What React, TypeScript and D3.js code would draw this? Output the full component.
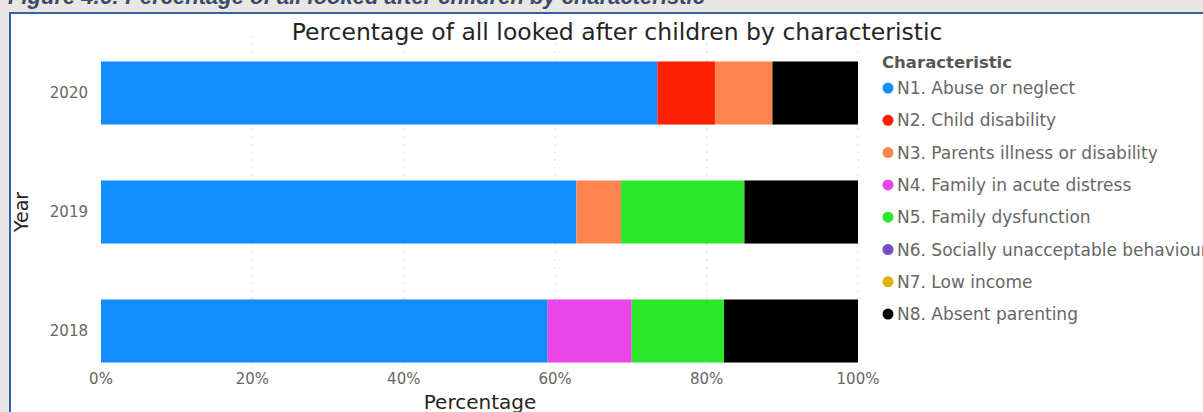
import React from "react";
import * as d3 from "d3";

const years = ["2020", "2019", "2018"];

const categories = [
  "N1. Abuse or neglect",
  "N2. Child disability",
  "N3. Parents illness or disability",
  "N4. Family in acute distress",
  "N5. Family dysfunction",
  "N6. Socially unacceptable behaviour",
  "N7. Low income",
  "N8. Absent parenting",
];

const colors = [
  "#118DFF",
  "#FA2000",
  "#FF8550",
  "#EB44EB",
  "#2BE62B",
  "#744EC2",
  "#D9B300",
  "#000000",
];

// Percentage share of each characteristic, one array per year (order follows categories)
const values2020 = [73.5, 7.6, 7.6, 0, 0, 0, 0, 11.3];
const values2019 = [62.8, 0, 5.9, 0, 16.3, 0, 0, 15.0];
const values2018 = [59.0, 0, 0, 11.1, 12.2, 0, 0, 17.7];

const xTicks = [0, 20, 40, 60, 80, 100];

const W = 1203;
const H = 412;

export default function App() {
  const valuesByYear: Record<string, number[]> = {
    "2020": values2020,
    "2019": values2019,
    "2018": values2018,
  };

  const x = d3.scaleLinear().domain([0, 100]).range([101, 858]);
  const y = d3.scalePoint<string>().domain(years).range([33.5, 390.5]).padding(0.5);
  const step = y.step();
  const barH = step * 0.53;

  const stackData = years.map((yr) => {
    const row: Record<string, number | string> = { year: yr };
    categories.forEach((c, i) => (row[c] = valuesByYear[yr][i]));
    return row;
  });
  const stack = d3.stack<Record<string, number | string>>().keys(categories)(stackData as any);

  const font = "'DejaVu Sans', Verdana, sans-serif";

  return (
    <>
      <style>{`body{margin:0;}`}</style>
      <svg width={W} height={H} style={{ display: "block" }}>
        <rect x={0} y={0} width={W} height={H} fill="#e9e7e4" />
        <text
          x={8}
          y={4}
          fontFamily="'Liberation Sans', Arial, sans-serif"
          fontWeight="bold"
          fontStyle="italic"
          fontSize={22}
          fill="#3b4a6a"
        >
          Figure 4.6: Percentage of all looked after children by characteristic
        </text>
        <rect x={10} y={13} width={W + 20} height={H + 20} fill="#ffffff" stroke="#3560a8" strokeWidth={2} />

        <text x={617} y={40} textAnchor="middle" fontFamily={font} fontSize={23.5} fill="#252423">
          Percentage of all looked after children by characteristic
        </text>

        {/* vertical dotted gridlines */}
        {xTicks
          .filter((t) => t > 0)
          .map((t) => (
            <line
              key={t}
              x1={x(t)}
              x2={x(t)}
              y1={36}
              y2={368}
              stroke="#cfcfcf"
              strokeWidth={1}
              strokeDasharray="1.5 6.2"
            />
          ))}

        {/* stacked bars */}
        {stack.map((layer, li) => (
          <g key={categories[li]} fill={colors[li]}>
            {layer.map((d, di) => {
              const w = x(d[1]) - x(d[0]);
              if (w <= 0) return null;
              return (
                <rect
                  key={years[di]}
                  x={x(d[0])}
                  y={(y(years[di]) as number) - barH / 2}
                  width={w}
                  height={barH}
                />
              );
            })}
          </g>
        ))}

        {/* y axis */}
        {years.map((yr) => (
          <text
            key={yr}
            x={88}
            y={(y(yr) as number) + 5}
            textAnchor="end"
            fontFamily={font}
            fontSize={15}
            fill="#666666"
          >
            {yr}
          </text>
        ))}
        <text
          transform={`translate(28,212) rotate(-90)`}
          textAnchor="middle"
          fontFamily={font}
          fontSize={19}
          fill="#252423"
        >
          Year
        </text>

        {/* x axis */}
        {xTicks.map((t) => (
          <text
            key={t}
            x={x(t)}
            y={384}
            textAnchor="middle"
            fontFamily={font}
            fontSize={15}
            fill="#666666"
          >
            {t}%
          </text>
        ))}
        <text x={480} y={409} textAnchor="middle" fontFamily={font} fontSize={20} fill="#252423">
          Percentage
        </text>

        {/* legend */}
        <text x={882} y={68} fontFamily={font} fontWeight="bold" fontSize={16.5} fill="#5a5652">
          Characteristic
        </text>
        {categories.map((c, i) => {
          const cy = 88 + i * 32.3;
          return (
            <g key={c}>
              <circle cx={888} cy={cy} r={5.5} fill={colors[i]} />
              <text x={897} y={cy + 6} fontFamily={font} fontSize={17} fill="#666666">
                {c}
              </text>
            </g>
          );
        })}
      </svg>
    </>
  );
}
